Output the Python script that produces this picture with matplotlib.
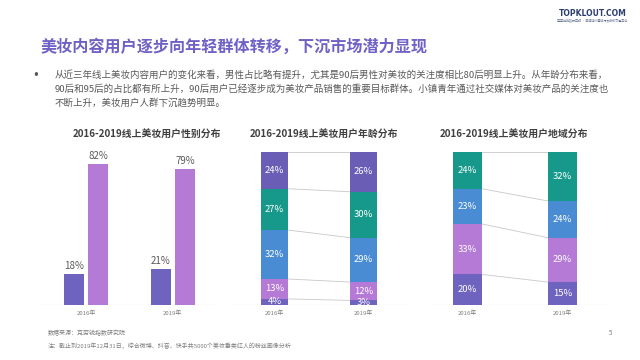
import matplotlib
matplotlib.use("Agg")
import matplotlib.pyplot as plt
import numpy as np

plt.rcParams["font.family"] = ["Noto Sans CJK SC", "DejaVu Sans"]

# ---- data ----
years = ["2016年", "2019年"]
gender_male = [18, 21]
gender_female = [82, 79]

# age stacks, bottom -> top
age_2016 = [4, 13, 32, 27, 24]
age_2019 = [3, 12, 29, 30, 26]

# region stacks, bottom -> top
region_2016 = [20, 33, 23, 24]
region_2019 = [15, 29, 24, 32]

title = "美妆内容用户逐步向年轻群体转移，下沉市场潜力显现"
body_lines = [
    "从近三年线上美妆内容用户的变化来看，男性占比略有提升，尤其是90后男性对美妆的关注度相比80后明显上升。从年龄分布来看，",
    "90后和95后的占比都有所上升，90后用户已经逐步成为美妆产品销售的重要目标群体。小镇青年通过社交媒体对美妆产品的关注度也",
    "不断上升，美妆用户人群下沉趋势明显。",
]
chart_titles = ["2016-2019线上美妆用户性别分布", "2016-2019线上美妆用户年龄分布",
                "2016-2019线上美妆用户地域分布"]
source_text = "数据来源：克劳锐指数研究院"
note_text = "注：截止到2019年12月31日，综合微博、抖音、快手共5000个美妆垂类红人的粉丝画像分析"

# colours
C_DEEP = "#6E63BF"
C_LILAC = "#B47AD6"
C_BLUE = "#4A8CD3"
C_TEAL = "#16998A"
C_TOP = "#6A5DB5"
stack_age_colors = [C_DEEP, C_LILAC, C_BLUE, C_TEAL, C_TOP]
stack_region_colors = [C_DEEP, C_LILAC, C_BLUE, C_TEAL]

W, H = 640, 360
fig = plt.figure(figsize=(6.4, 3.6), dpi=100)
fig.patch.set_facecolor("white")


def px_axes(x0, y0, x1, y1):
    # pixel box (top-left origin) -> figure axes
    return fig.add_axes([x0 / W, 1 - y1 / H, (x1 - x0) / W, (y1 - y0) / H])


def px_text(x, y, s, **kw):
    fig.text(x / W, 1 - y / H, s, **kw)


# header
px_text(627, 13, "TOPKLOUT.COM", ha="right", va="center", fontsize=5.5,
        color="#2E3F6E", fontweight="bold", family=["DejaVu Sans"])
px_text(627, 20, "克劳锐指数研究院 · 自媒体价值排行及版权交易平台", ha="right", va="center",
        fontsize=2.2, color="#5A6A8A")
px_text(40, 47, title, ha="left", va="center", fontsize=11.6, fontweight="bold",
        color="#6F61C6")
px_text(32, 75, "•", ha="left", va="center", fontsize=8.5, color="#595959",
        family=["DejaVu Sans"])
for i, line in enumerate(body_lines):
    px_text(55, 75 + 14 * i, line, ha="left", va="center", fontsize=6.85, color="#595959")


def finish_axes(ax):
    for s in ax.spines.values():
        s.set_visible(False)
    ax.set_yticks([])
    ax.set_xticks([0, 1])
    ax.set_xticklabels(years, fontsize=4.3, color="#7F7F7F")
    ax.tick_params(axis="x", length=0, pad=4)
    ax.axhline(0, color="#D9D9D9", lw=0.8, zorder=0)


# ---- chart 1: gender ----
ax1 = px_axes(40, 150, 218, 305)
x = np.arange(len(years))
bw = 0.23
ax1.bar(x - 0.14, gender_male, bw, color=C_DEEP)
ax1.bar(x + 0.14, gender_female, bw, color=C_LILAC)
for xi, m, f in zip(x, gender_male, gender_female):
    ax1.text(xi - 0.14, m + 1.5, f"{m}%", ha="center", va="bottom", fontsize=7, color="#595959")
    ax1.text(xi + 0.14, f + 1.5, f"{f}%", ha="center", va="bottom", fontsize=7, color="#595959")
ax1.set_xlim(-0.53, 1.52)
ax1.set_ylim(0, 90)
finish_axes(ax1)


def stacked(ax, left_vals, right_vals, colors, bw):
    for xi, vals in zip([0, 1], [left_vals, right_vals]):
        bottom = 0
        for v, c in zip(vals, colors):
            ax.bar(xi, v, bw, bottom=bottom, color=c, zorder=2)
            ax.text(xi, bottom + v / 2, f"{v}%", ha="center", va="center",
                    fontsize=6.8, color="white", zorder=3)
            bottom += v
    cl = np.cumsum(left_vals)
    cr = np.cumsum(right_vals)
    for a, b in zip(cl, cr):
        ax.plot([bw / 2, 1 - bw / 2], [a, b], color="#C8C8C8", lw=0.6, zorder=1)
    ax.set_ylim(0, 100)


# ---- chart 2: age ----
ax2 = px_axes(230, 152, 410, 305)
stacked(ax2, age_2016, age_2019, stack_age_colors, 0.30)
ax2.set_xlim(-0.5, 1.52)
finish_axes(ax2)

# ---- chart 3: region ----
ax3 = px_axes(430, 152, 612, 305)
stacked(ax3, region_2016, region_2019, stack_region_colors, 0.305)
ax3.set_xlim(-0.39, 1.52)
finish_axes(ax3)

for cx, t in zip([147, 324, 514], chart_titles):
    px_text(cx, 135, t, ha="center", va="center", fontsize=7.1, fontweight="bold",
            color="#404040")

# footer
px_text(48, 333, source_text, ha="left", va="center", fontsize=4.3, color="#7F7F7F")
px_text(48, 346, note_text, ha="left", va="center", fontsize=4.3, color="#7F7F7F")
px_text(611, 333, "5", ha="center", va="center", fontsize=4.5, color="#7F7F7F")

fig.savefig("out.png", dpi=100, facecolor="white")
